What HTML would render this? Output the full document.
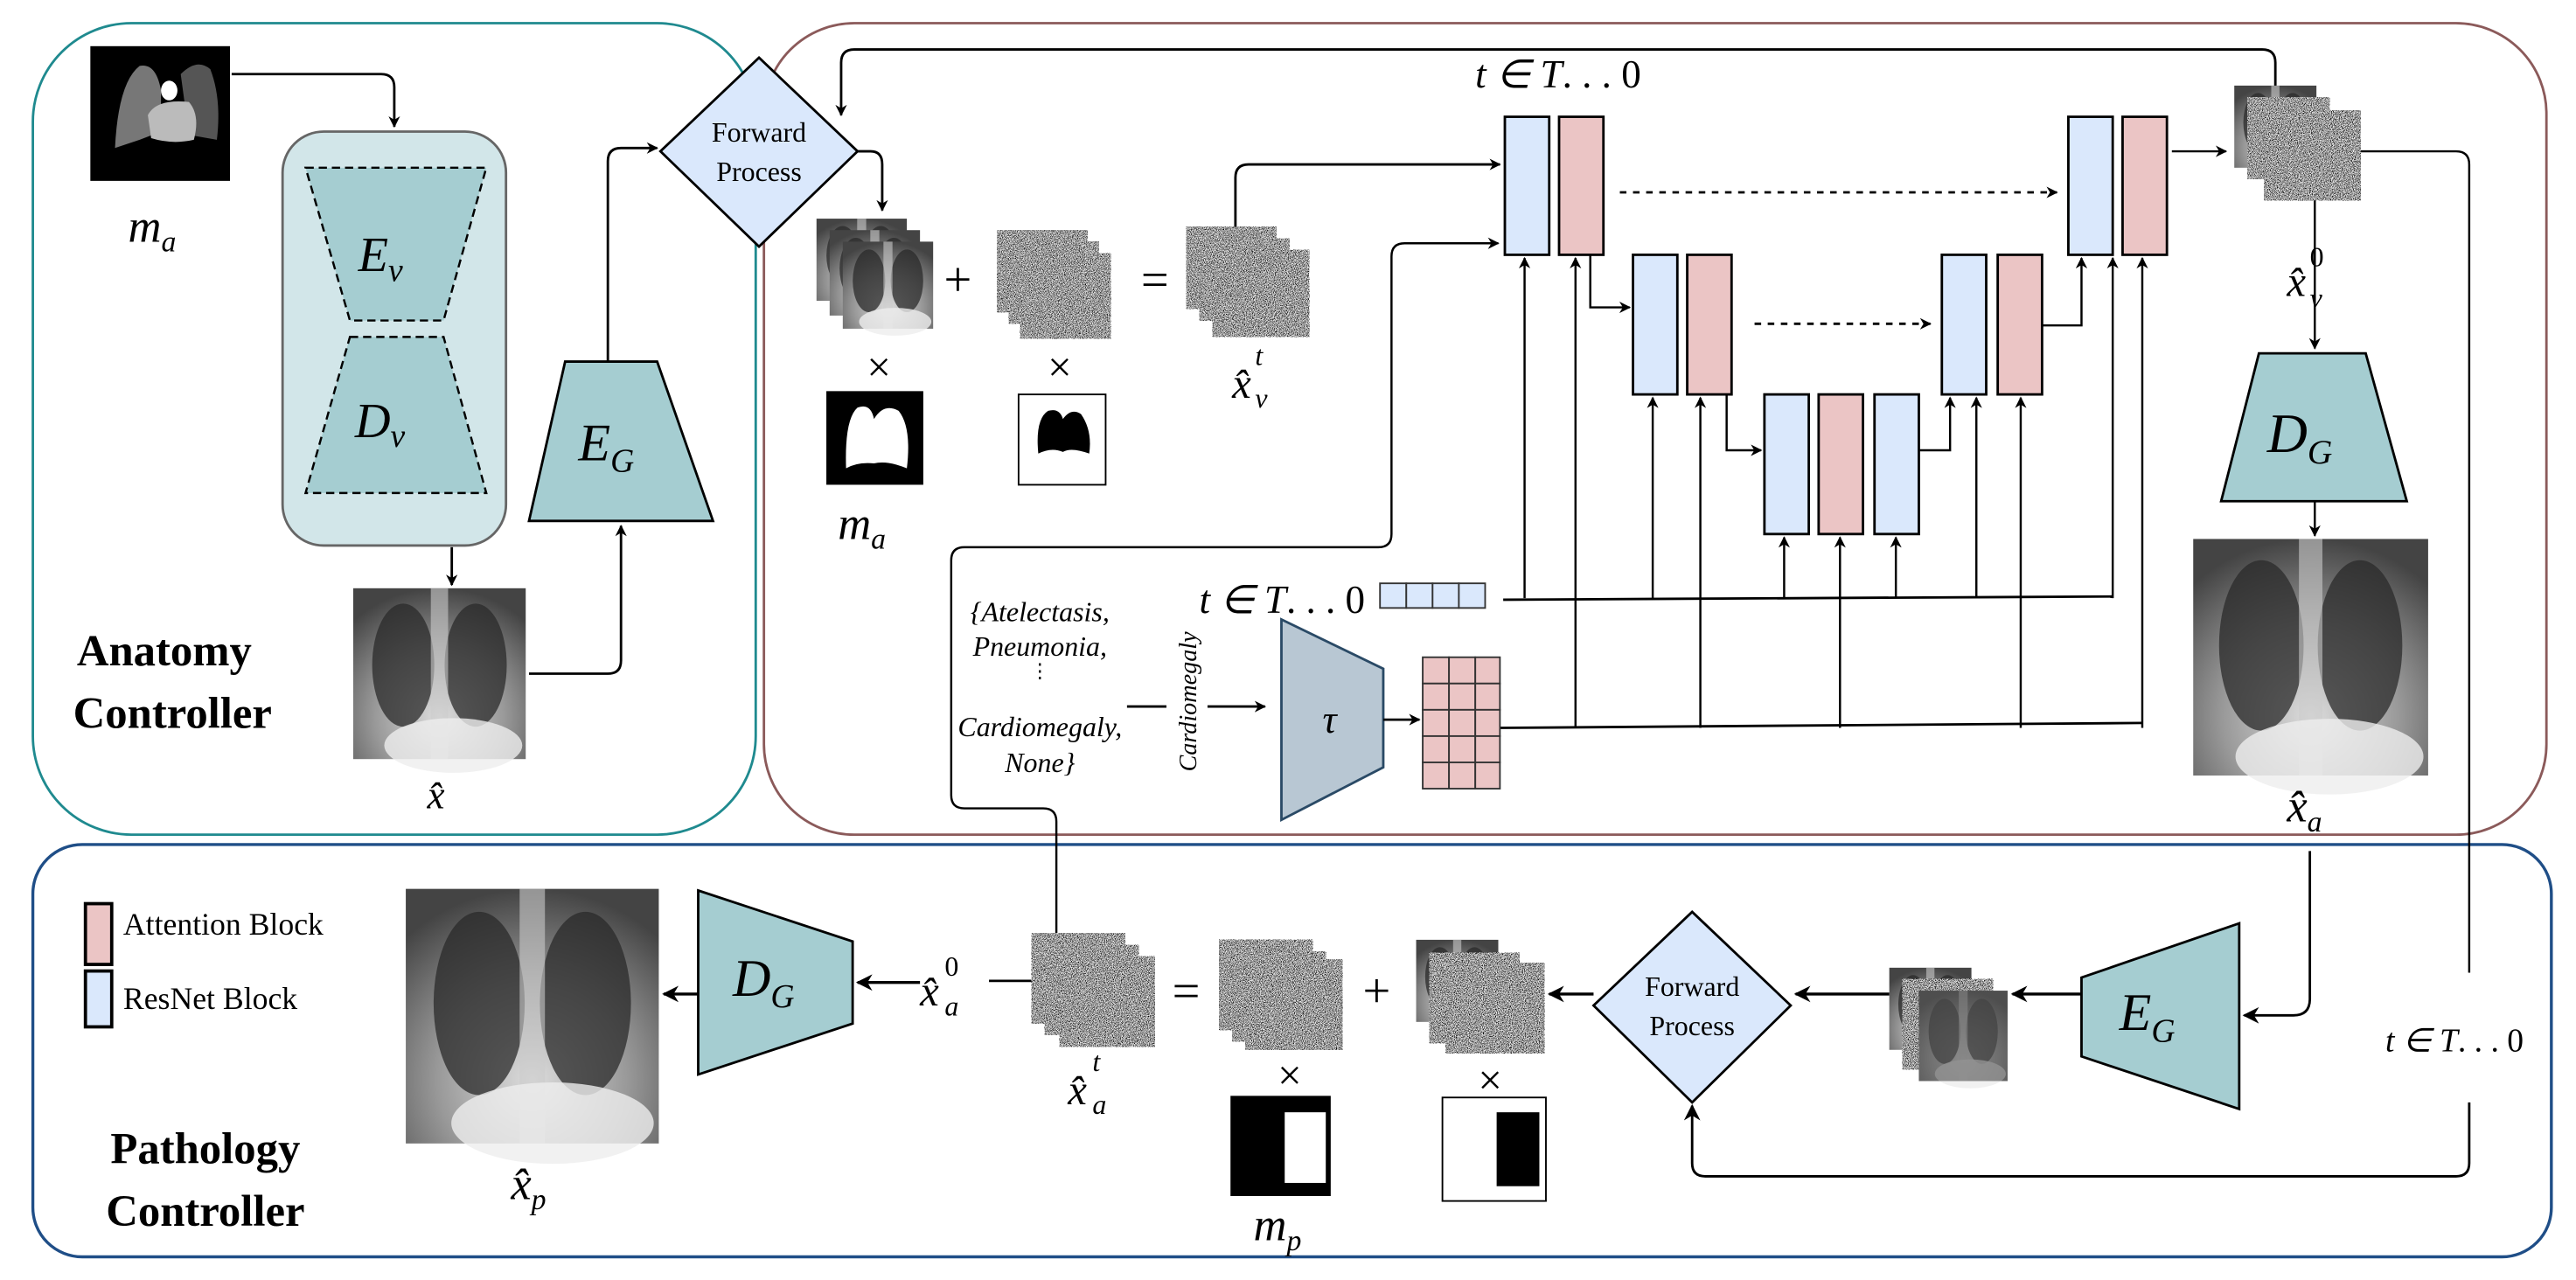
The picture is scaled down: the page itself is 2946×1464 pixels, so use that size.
<!DOCTYPE html>
<html><head><meta charset="utf-8"><style>
html,body{margin:0;padding:0;background:#fff}
svg{display:block}
text{font-family:"Liberation Serif",serif}
.m{font-style:italic}
</style></head><body>
<svg width="2946" height="1464" viewBox="0 0 1568 779" xmlns="http://www.w3.org/2000/svg">
<defs>
<marker id="a" viewBox="0 0 10 10" refX="9" refY="5" markerWidth="7" markerHeight="7" orient="auto" markerUnits="userSpaceOnUse"><path d="M0,0 L10,5 L0,10 L3,5 z" fill="#000"/></marker>
<marker id="b" viewBox="0 0 10 10" refX="9" refY="5" markerWidth="10" markerHeight="10" orient="auto" markerUnits="userSpaceOnUse"><path d="M0,0 L10,5 L0,10 L3,5 z" fill="#000"/></marker>
<filter id="nz" x="0" y="0" width="1" height="1"><feTurbulence type="fractalNoise" baseFrequency="1.2" numOctaves="2" seed="3"/><feColorMatrix type="matrix" values="3 0 0 0 -1.1 3 0 0 0 -1.1 3 0 0 0 -1.1 0 0 0 0 1"/></filter>
<radialGradient id="xr" cx="0.5" cy="0.75" r="0.75"><stop offset="0" stop-color="#ddd"/><stop offset="0.5" stop-color="#999"/><stop offset="1" stop-color="#444"/></radialGradient>
<g id="xray">
<rect width="100" height="100" fill="url(#xr)"/>
<ellipse cx="29" cy="45" rx="18" ry="36" fill="#2a2a2a" opacity="0.75"/>
<ellipse cx="71" cy="45" rx="18" ry="36" fill="#2a2a2a" opacity="0.75"/>
<rect x="45" y="0" width="10" height="100" fill="#ccc" opacity="0.6"/>
<ellipse cx="58" cy="92" rx="40" ry="16" fill="#eee" opacity="0.8"/>
</g>
<g id="noise"><rect width="100" height="100" fill="#888" filter="url(#nz)"/></g>
</defs>

<!-- Panels -->
<rect x="20" y="14" width="440" height="494" rx="60" fill="none" stroke="#1f8a8f" stroke-width="1.5"/>
<rect x="465" y="14" width="1085" height="494" rx="55" fill="none" stroke="#8b5a5a" stroke-width="1.5"/>
<rect x="20" y="514" width="1533" height="251" rx="30" fill="none" stroke="#1f4e87" stroke-width="1.8"/>

<!-- Anatomy controller -->
<rect x="55" y="28" width="85" height="82" fill="#000"/>
<path d="M70,90 Q72,50 85,40 Q95,38 98,55 L98,80 L85,85 Z" fill="#777"/>
<path d="M110,45 Q120,35 128,42 Q135,60 132,85 L115,82 Z" fill="#555"/>
<path d="M90,70 Q95,60 115,62 Q122,70 118,85 Q105,88 92,84 Z" fill="#bbb"/>
<ellipse cx="103" cy="55" rx="5" ry="6" fill="#fff"/>
<text x="78" y="147" class="m" font-size="28">m<tspan font-size="18" dy="6">a</tspan></text>
<path d="M141,45 H232 Q240,45 240,53 V77" fill="none" stroke="#000" stroke-width="1.5" marker-end="url(#a)"/>
<rect x="172" y="80" width="136" height="252" rx="25" fill="#d2e6e9" stroke="#666" stroke-width="1.5"/>
<polygon points="186,102 296,102 270,195 213,195" fill="#a5cdd1" stroke="#000" stroke-width="1.3" stroke-dasharray="5,3"/>
<polygon points="213,205 270,205 296,300 186,300" fill="#a5cdd1" stroke="#000" stroke-width="1.3" stroke-dasharray="5,3"/>
<text x="218" y="165" class="m" font-size="30">E<tspan font-size="20" dy="6">v</tspan></text>
<text x="216" y="266" class="m" font-size="30">D<tspan font-size="20" dy="6">v</tspan></text>
<path d="M275,333 V356" fill="none" stroke="#000" stroke-width="1.5" marker-end="url(#a)"/>
<use href="#xray" transform="translate(215,358) scale(1.05,1.04)"/>
<text x="260" y="492" class="m" font-size="24">x̂</text>
<text x="100" y="405" text-anchor="middle" font-size="27" font-weight="bold">Anatomy</text>
<text x="105" y="443" text-anchor="middle" font-size="27" font-weight="bold">Controller</text>
<path d="M322,410 H370 Q378,410 378,402 V320" fill="none" stroke="#000" stroke-width="1.5" marker-end="url(#a)"/>
<polygon points="344,220 400,220 434,317 322,317" fill="#a5cdd1" stroke="#000" stroke-width="1.5"/>
<text x="352" y="280" class="m" font-size="32">E<tspan font-size="20" dy="7">G</tspan></text>
<path d="M370,220 V98 Q370,90 378,90 H400" fill="none" stroke="#000" stroke-width="1.5" marker-end="url(#a)"/>
<polygon points="462,35 522,92 462,150 402,92" fill="#dae8fc" stroke="#000" stroke-width="1.5"/>
<text x="462" y="86" text-anchor="middle" font-size="17">Forward</text>
<text x="462" y="110" text-anchor="middle" font-size="17">Process</text>

<!-- Middle -->
<path d="M1385,55 V38 Q1385,30 1377,30 H520 Q512,30 512,38 V70" fill="none" stroke="#000" stroke-width="1.5" marker-end="url(#a)"/>
<path d="M522,92 H530 Q537,92 537,100 V128" fill="none" stroke="#000" stroke-width="1.5" marker-end="url(#a)"/>
<use href="#xray" transform="translate(497,133) scale(0.55,0.5)"/>
<use href="#xray" transform="translate(505,140) scale(0.55,0.52)"/>
<use href="#xray" transform="translate(513,147) scale(0.55,0.53)"/>
<text x="583" y="180" text-anchor="middle" font-size="30">+</text>
<use href="#noise" transform="translate(607,140) scale(0.55,0.5)"/>
<use href="#noise" transform="translate(614,147) scale(0.55,0.5)"/>
<use href="#noise" transform="translate(621,154) scale(0.55,0.52)"/>
<text x="703" y="180" text-anchor="middle" font-size="30">=</text>
<use href="#noise" transform="translate(722,138) scale(0.55,0.5)"/>
<use href="#noise" transform="translate(730,145) scale(0.55,0.5)"/>
<use href="#noise" transform="translate(738,152) scale(0.59,0.53)"/>
<text x="535" y="232" text-anchor="middle" font-size="26">×</text>
<text x="645" y="232" text-anchor="middle" font-size="26">×</text>
<rect x="503" y="238" width="59" height="57" fill="#000"/>
<path d="M515,285 Q514,255 522,248 Q530,245 532,255 Q538,245 547,250 Q555,260 552,285 Q540,280 532,282 Q522,281 515,285 Z" fill="#fff"/>
<rect x="620" y="240" width="53" height="55" fill="#fff" stroke="#000" stroke-width="1"/>
<path d="M632,276 Q630,255 638,250 Q645,248 647,255 Q652,248 658,252 Q665,262 663,276 Q652,272 647,275 Q640,272 632,276 Z" fill="#000"/>
<text x="510" y="328" class="m" font-size="28">m<tspan font-size="18" dy="6">a</tspan></text>
<text x="750" y="242" class="m" font-size="26">x̂</text>
<text x="764" y="222" class="m" font-size="17">t</text>
<text x="764" y="248" class="m" font-size="17">v</text>
<path d="M752,138 V108 Q752,100 760,100 H913" fill="none" stroke="#000" stroke-width="1.5" marker-end="url(#a)"/>
<text x="898" y="53" class="m" font-size="24">t ∈ T<tspan font-style="normal">. . . 0</tspan></text>

<!-- UNet blocks -->
<g stroke="#000" stroke-width="1.5">
<rect x="916" y="71" width="27" height="84" fill="#dae8fc"/>
<rect x="949" y="71" width="27" height="84" fill="#ebc5c5"/>
<rect x="1259" y="71" width="27" height="84" fill="#dae8fc"/>
<rect x="1292" y="71" width="27" height="84" fill="#ebc5c5"/>
<rect x="994" y="155" width="27" height="85" fill="#dae8fc"/>
<rect x="1027" y="155" width="27" height="85" fill="#ebc5c5"/>
<rect x="1182" y="155" width="27" height="85" fill="#dae8fc"/>
<rect x="1216" y="155" width="27" height="85" fill="#ebc5c5"/>
<rect x="1074" y="240" width="27" height="85" fill="#dae8fc"/>
<rect x="1107" y="240" width="27" height="85" fill="#ebc5c5"/>
<rect x="1141" y="240" width="27" height="85" fill="#dae8fc"/>
</g>
<path d="M986,117 H1252" fill="none" stroke="#000" stroke-width="1.5" stroke-dasharray="4,4" marker-end="url(#a)"/>
<path d="M1068,197 H1175" fill="none" stroke="#000" stroke-width="1.5" stroke-dasharray="4,4" marker-end="url(#a)"/>
<g fill="none" stroke="#000" stroke-width="1.3" marker-end="url(#a)">
<path d="M968,155 V187 H992"/>
<path d="M1051,240 V274 H1072"/>
<path d="M1168,274 H1187 V242"/>
<path d="M1243,198 H1267 V157"/>
<path d="M1322,92 H1355"/>
<path d="M928,364 V157"/>
<path d="M1006,364 V242"/>
<path d="M1086,364 V327"/>
<path d="M1154,364 V327"/>
<path d="M1203,364 V242"/>
<path d="M1286,364 V157"/>
<path d="M959,443 V157"/>
<path d="M1035,443 V242"/>
<path d="M1120,443 V327"/>
<path d="M1230,443 V242"/>
<path d="M1304,443 V157"/>
</g>
<path d="M915,365 L1286,363" stroke="#000" stroke-width="1.5"/>
<path d="M913,443 L1304,440" stroke="#000" stroke-width="1.5"/>

<!-- time embedding & condition -->
<text x="730" y="373" class="m" font-size="24">t ∈ T<tspan font-style="normal">. . . 0</tspan></text>
<g fill="#dae8fc" stroke="#333" stroke-width="1"><rect x="840" y="355" width="16" height="15"/><rect x="856" y="355" width="16" height="15"/><rect x="872" y="355" width="16" height="15"/><rect x="888" y="355" width="16" height="15"/></g>
<text x="633" y="378" text-anchor="middle" class="m" font-size="17">{Atelectasis,</text>
<text x="633" y="399" text-anchor="middle" class="m" font-size="17">Pneumonia,</text>
<text x="633" y="412" text-anchor="middle" font-size="12">⋮</text>
<text x="633" y="448" text-anchor="middle" class="m" font-size="17">Cardiomegaly,</text>
<text x="633" y="470" text-anchor="middle" class="m" font-size="17">None}</text>
<path d="M686,430 H710" stroke="#000" stroke-width="1.5"/>
<text transform="translate(728,427) rotate(-90)" text-anchor="middle" class="m" font-size="15">Cardiomegaly</text>
<path d="M735,430 H770" fill="none" stroke="#000" stroke-width="1.5" marker-end="url(#a)"/>
<polygon points="780,377 842,407 842,467 780,499" fill="#b8c7d3" stroke="#2a4a66" stroke-width="1.5"/>
<text x="805" y="446" class="m" font-size="24">τ</text>
<path d="M842,438 H864" fill="none" stroke="#000" stroke-width="1.5" marker-end="url(#a)"/>
<g fill="#ebc5c5" stroke="#333" stroke-width="1">
<rect x="866" y="400" width="16" height="16"/><rect x="882" y="400" width="16" height="16"/><rect x="898" y="400" width="15" height="16"/>
<rect x="866" y="416" width="16" height="16"/><rect x="882" y="416" width="16" height="16"/><rect x="898" y="416" width="15" height="16"/>
<rect x="866" y="432" width="16" height="16"/><rect x="882" y="432" width="16" height="16"/><rect x="898" y="432" width="15" height="16"/>
<rect x="866" y="448" width="16" height="16"/><rect x="882" y="448" width="16" height="16"/><rect x="898" y="448" width="15" height="16"/>
<rect x="866" y="464" width="16" height="16"/><rect x="882" y="464" width="16" height="16"/><rect x="898" y="464" width="15" height="16"/>
</g>
<path d="M643,590 V500 Q643,492 635,492 H587 Q579,492 579,484 V341 Q579,333 587,333 H839 Q847,333 847,325 V156 Q847,148 855,148 H912" fill="none" stroke="#000" stroke-width="1.3" marker-end="url(#a)"/>

<!-- right column -->
<use href="#xray" transform="translate(1360,52) scale(0.5,0.5)"/>
<use href="#noise" transform="translate(1368,59) scale(0.5,0.5)"/>
<use href="#noise" transform="translate(1378,67) scale(0.59,0.55)"/>
<path d="M1437,92 H1495 Q1503,92 1503,100 V592" fill="none" stroke="#000" stroke-width="1.3"/>
<path d="M1409,122 V212" fill="none" stroke="#000" stroke-width="1.3" marker-end="url(#a)"/>
<text x="1392" y="180" class="m" font-size="26">x̂</text>
<text x="1406" y="162" font-size="17">0</text>
<text x="1406" y="187" class="m" font-size="17">v</text>
<polygon points="1375,215 1440,215 1465,305 1352,305" fill="#a5cdd1" stroke="#000" stroke-width="1.5"/>
<text x="1380" y="275" class="m" font-size="34">D<tspan font-size="21" dy="7">G</tspan></text>
<path d="M1409,305 V326" fill="none" stroke="#000" stroke-width="1.3" marker-end="url(#a)"/>
<use href="#xray" transform="translate(1335,328) scale(1.43,1.44)"/>
<text x="1392" y="500" class="m" font-size="28">x̂<tspan font-size="18" dy="6">a</tspan></text>

<!-- Pathology -->
<rect x="52" y="550" width="16" height="37" fill="#ebc5c5" stroke="#000" stroke-width="2"/>
<text x="75" y="569" font-size="19">Attention Block</text>
<rect x="52" y="591" width="16" height="34" fill="#dae8fc" stroke="#000" stroke-width="2"/>
<text x="75" y="614" font-size="19">ResNet Block</text>
<text x="125" y="708" text-anchor="middle" font-size="27" font-weight="bold">Pathology</text>
<text x="125" y="746" text-anchor="middle" font-size="27" font-weight="bold">Controller</text>
<use href="#xray" transform="translate(247,541) scale(1.54,1.55)"/>
<text x="311" y="730" class="m" font-size="28">x̂<tspan font-size="18" dy="6">p</tspan></text>
<path d="M425,605 H404" fill="none" stroke="#000" stroke-width="1.8" marker-end="url(#b)"/>
<polygon points="425,542 519,573 519,623 425,654" fill="#a5cdd1" stroke="#000" stroke-width="1.5"/>
<text x="446" y="606" class="m" font-size="32">D<tspan font-size="20" dy="7">G</tspan></text>
<path d="M560,598 H522" fill="none" stroke="#000" stroke-width="1.8" marker-end="url(#b)"/>
<text x="560" y="612" class="m" font-size="26">x̂</text>
<text x="575" y="594" font-size="17">0</text>
<text x="575" y="618" class="m" font-size="17">a</text>
<path d="M602,597 H628" stroke="#000" stroke-width="1.5"/>
<use href="#noise" transform="translate(628,568) scale(0.57,0.55)"/>
<use href="#noise" transform="translate(636,575) scale(0.57,0.55)"/>
<use href="#noise" transform="translate(645,582) scale(0.58,0.55)"/>
<text x="650" y="672" class="m" font-size="26">x̂</text>
<text x="665" y="652" class="m" font-size="17">t</text>
<text x="665" y="678" class="m" font-size="17">a</text>
<text x="722" y="613" text-anchor="middle" font-size="30">=</text>
<use href="#noise" transform="translate(742,572) scale(0.57,0.55)"/>
<use href="#noise" transform="translate(750,579) scale(0.57,0.55)"/>
<use href="#noise" transform="translate(758,584) scale(0.59,0.55)"/>
<text x="838" y="613" text-anchor="middle" font-size="30">+</text>
<use href="#xray" transform="translate(862,572) scale(0.5,0.5)"/>
<use href="#noise" transform="translate(870,580) scale(0.55,0.55)"/>
<use href="#noise" transform="translate(880,586) scale(0.6,0.55)"/>
<text x="785" y="663" text-anchor="middle" font-size="26">×</text>
<text x="907" y="666" text-anchor="middle" font-size="26">×</text>
<rect x="749" y="667" width="61" height="61" fill="#000"/>
<rect x="782" y="677" width="25" height="43" fill="#fff"/>
<rect x="878" y="668" width="63" height="63" fill="#fff" stroke="#000" stroke-width="1"/>
<rect x="911" y="677" width="26" height="45" fill="#000"/>
<text x="763" y="755" class="m" font-size="28">m<tspan font-size="18" dy="6">p</tspan></text>
<path d="M970,605 H943" fill="none" stroke="#000" stroke-width="1.8" marker-end="url(#b)"/>
<polygon points="1030,555 1090,612 1030,671 970,612" fill="#dae8fc" stroke="#000" stroke-width="1.5"/>
<text x="1030" y="606" text-anchor="middle" font-size="17">Forward</text>
<text x="1030" y="630" text-anchor="middle" font-size="17">Process</text>
<path d="M1150,605 H1093" fill="none" stroke="#000" stroke-width="1.8" marker-end="url(#b)"/>
<use href="#xray" transform="translate(1150,589) scale(0.5,0.5)"/>
<use href="#noise" transform="translate(1158,596) scale(0.55,0.55)"/>
<use href="#xray" transform="translate(1168,603) scale(0.54,0.55)"/>
<rect x="1168" y="603" width="54" height="55" fill="#555" opacity="0.6"/>
<path d="M1267,605 H1225" fill="none" stroke="#000" stroke-width="1.8" marker-end="url(#b)"/>
<polygon points="1267,595 1363,562 1363,675 1267,643" fill="#a5cdd1" stroke="#000" stroke-width="1.5"/>
<text x="1290" y="627" class="m" font-size="32">E<tspan font-size="20" dy="7">G</tspan></text>
<path d="M1406,518 V608 Q1406,618 1396,618 H1366" fill="none" stroke="#000" stroke-width="1.5" marker-end="url(#b)"/>
<text x="1452" y="640" class="m" font-size="20">t ∈ T<tspan font-style="normal">. . . 0</tspan></text>
<path d="M1503,671 V708 Q1503,716 1495,716 H1038 Q1030,716 1030,708 V673" fill="none" stroke="#000" stroke-width="1.5" marker-end="url(#b)"/>
</svg>
</body></html>
